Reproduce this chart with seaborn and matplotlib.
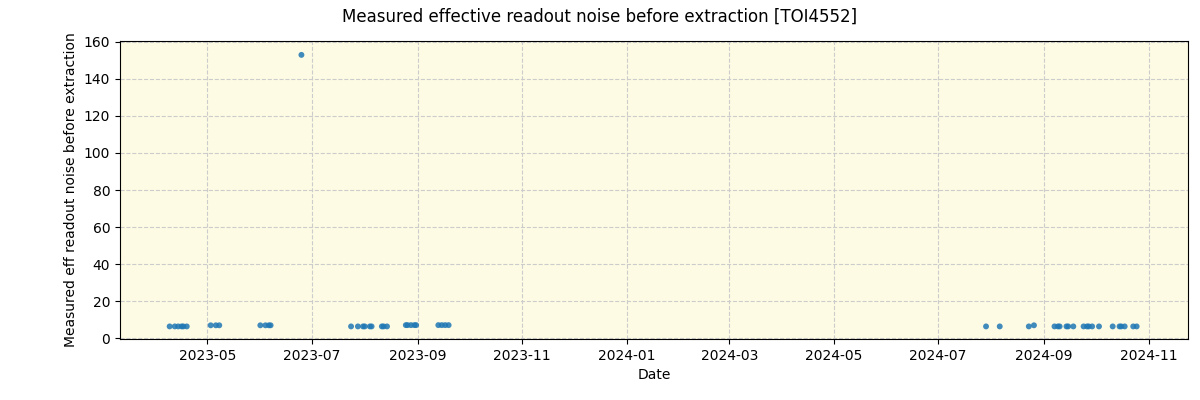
import pandas as pd
import seaborn as sns
import matplotlib.pyplot as plt
import matplotlib.dates as mdates

dates = ['2023-04-09', '2023-04-12', '2023-04-14', '2023-04-16', '2023-04-17', '2023-04-19',
         '2023-05-03', '2023-05-06', '2023-05-08',
         '2023-06-01', '2023-06-04', '2023-06-06', '2023-06-07',
         '2023-06-25',
         '2023-07-24', '2023-07-28', '2023-07-31', '2023-08-01', '2023-08-04', '2023-08-05',
         '2023-08-11', '2023-08-12', '2023-08-14',
         '2023-08-25', '2023-08-26', '2023-08-28', '2023-08-30', '2023-08-31',
         '2023-09-13', '2023-09-15', '2023-09-17', '2023-09-19',
         '2024-07-29', '2024-08-06', '2024-08-23', '2024-08-26',
         '2024-09-07', '2024-09-09', '2024-09-10', '2024-09-14', '2024-09-15', '2024-09-18',
         '2024-09-24', '2024-09-26', '2024-09-27', '2024-09-29', '2024-10-03',
         '2024-10-11', '2024-10-15', '2024-10-16', '2024-10-18', '2024-10-23', '2024-10-25']
noise = [6.3, 6.3, 6.3, 6.3, 6.3, 6.3,
         6.9, 6.9, 6.9,
         6.9, 6.9, 6.9, 6.9,
         153.0,
         6.3, 6.3, 6.3, 6.3, 6.3, 6.3,
         6.3, 6.3, 6.3,
         7.0, 7.0, 7.0, 7.0, 7.0,
         7.0, 7.0, 7.0, 7.0,
         6.3, 6.3, 6.3, 6.9,
         6.3, 6.3, 6.3, 6.3, 6.3, 6.3,
         6.3, 6.3, 6.3, 6.3, 6.3,
         6.3, 6.3, 6.3, 6.3, 6.3, 6.3]

df = pd.DataFrame({"date": pd.to_datetime(dates), "noise": noise})

fig = plt.figure(figsize=(12, 4), dpi=100)
ax = fig.add_axes([0.1, 0.1525, 0.89, 0.745])
ax.set_facecolor('#fdfbe3')

sns.scatterplot(data=df, x="date", y="noise", ax=ax, s=18, color='tab:blue',
                alpha=0.85, edgecolor='none', zorder=3)

ax.grid(True, linestyle='--', color='#cccccc', linewidth=0.8)
ax.set_axisbelow(True)
ax.set_xlim(pd.Timestamp('2023-03-11'), pd.Timestamp('2024-11-24'))
ax.set_ylim(-0.5, 160.5)
ax.xaxis.set_major_locator(mdates.MonthLocator(bymonth=[1, 3, 5, 7, 9, 11]))
ax.xaxis.set_major_formatter(mdates.DateFormatter('%Y-%m'))

ax.set_xlabel("Date")
ax.set_ylabel("Measured eff readout noise before extraction")
fig.suptitle("Measured effective readout noise before extraction [TOI4552]", y=0.98)

plt.savefig("out.png", dpi=100)
